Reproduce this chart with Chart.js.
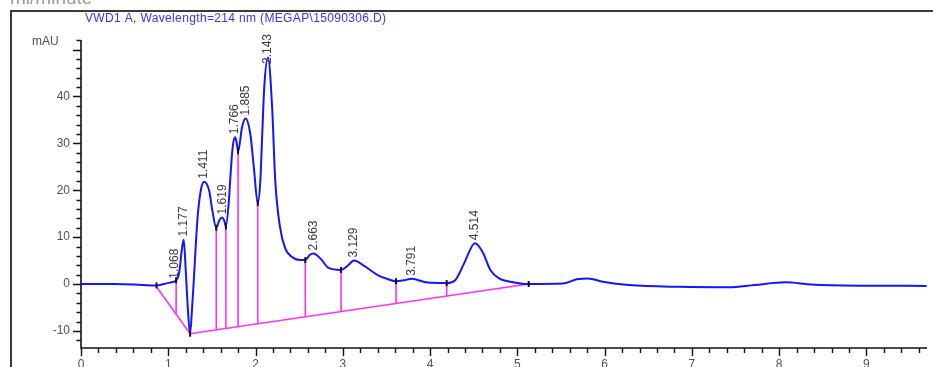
<!DOCTYPE html>
<html>
<head>
<meta charset="utf-8">
<script src="https://cdn.jsdelivr.net/npm/chart.js@4/dist/chart.umd.min.js"></script>
<style>
  html, body { margin: 0; padding: 0; background: #fff; }
  #wrap { width: 933px; height: 367px; position: relative; }
</style>
</head>
<body>
<div id="wrap"><canvas id="chrom" width="933" height="367"></canvas></div>
<script>
// VWD1 A signal, 214 nm (retention time in min, absorbance in mAU)
const signalTimes = [
  0.00, 0.40, 0.70, 0.865, 0.95, 1.02, 1.068, 1.09, 1.126, 1.15, 1.177, 1.20, 1.225, 1.25, 1.27,
  1.297, 1.335, 1.373, 1.411, 1.47, 1.505, 1.55, 1.585, 1.619, 1.645, 1.66, 1.695, 1.714, 1.74,
  1.766, 1.785, 1.80, 1.846, 1.885, 1.94, 1.98, 2.025, 2.055, 2.074, 2.10, 2.143, 2.19, 2.226,
  2.28, 2.34, 2.415, 2.51, 2.57, 2.62, 2.663, 2.76, 2.83, 2.98, 3.05, 3.129, 3.25, 3.40, 3.52,
  3.61, 3.70, 3.791, 3.97, 4.19, 4.29, 4.39, 4.514, 4.60, 4.69, 4.79, 4.92, 5.13, 5.52, 5.68,
  5.81, 5.98, 6.28, 6.85, 7.42, 7.72, 8.07, 8.37, 8.94, 9.69
];
const signalValues = [
  0.0, 0.0, -0.2, -0.3, 0.0, 0.3, 0.5, 0.8, 2.5, 6.5, 9.5, 3.0, -5.5, -10.6, -6.0,
  2.3, 14.0, 20.0, 21.8, 19.8, 15.7, 12.0, 13.6, 14.2, 13.3, 12.3, 17.9, 23.5, 29.5,
  31.3, 30.0, 28.3, 33.5, 35.3, 32.0, 25.0, 17.3, 22.0, 30.6, 42.0, 48.3, 37.7, 22.0,
  12.2, 7.6, 5.8, 5.1, 5.1, 6.2, 6.5, 5.1, 3.5, 3.0, 3.8, 5.0, 3.8, 1.9, 1.0,
  0.6, 0.8, 1.1, 0.3, 0.2, 0.85, 4.4, 8.7, 6.9, 3.0, 1.2, 0.5, 0.0, 0.1, 1.0,
  1.2, 0.5, -0.2, -0.6, -0.7, -0.2, 0.35, -0.1, -0.35, -0.4
];

// Integration baseline
const baselineTimes  = [0.865, 1.25, 5.13];
const baselineValues = [-0.6, -10.6, 0.0];

// Peak separation drop lines (top on signal, bottom on baseline)
const dropTimes   = [1.09, 1.55, 1.66, 1.80, 2.025, 2.57, 2.98, 3.61, 4.19];
const dropTops    = [0.8, 12.0, 12.3, 28.3, 17.3, 5.1, 3.0, 0.6, 0.2];
const dropBottoms = [-6.4, -9.8, -9.5, -9.1, -8.5, -7.0, -5.9, -4.2, -2.6];

// Integration event marks
const eventTimes  = [0.865, 1.09, 1.25, 1.55, 1.66, 1.80, 2.025, 2.57, 2.98, 3.61, 4.19, 5.13];
const eventValues = [-0.3, 0.8, -10.6, 12.0, 12.3, 28.3, 17.3, 5.1, 3.0, 0.6, 0.2, 0.0];

// Peak retention time labels
const peakLabels = ['1.068', '1.177', '1.411', '1.619', '1.766', '1.885', '2.143', '2.663', '3.129', '3.791', '4.514'];
const peakTimes  = [1.068, 1.177, 1.411, 1.619, 1.766, 1.885, 2.143, 2.663, 3.129, 3.791, 4.514];
const peakValues = [0.5, 9.5, 21.8, 14.2, 31.3, 35.3, 48.3, 6.5, 5.0, 1.1, 8.7];

// Axis ticks
const xTickLabels = ['0', '1', '2', '3', '4', '5', '6', '7', '8', '9'];
const yTickLabels = ['-10', '0', '10', '20', '30', '40'];

const titleText = 'VWD1 A, Wavelength=214 nm (MEGAP\\15090306.D)';
const unitText = 'mAU';
const headerText = 'ml/minute';

const FONT = '"Liberation Sans", Arial, sans-serif';

const pts = (xs, ys) => xs.map((x, i) => ({ x: x, y: ys[i] }));

const datasets = [
  {
    label: 'events',
    data: pts(eventTimes, eventValues),
    showLine: false,
    pointStyle: 'line',
    rotation: 90,
    radius: 3,
    borderColor: '#111',
    borderWidth: 2,
    order: 0
  },
  {
    label: 'signal',
    data: pts(signalTimes, signalValues),
    showLine: true,
    borderColor: '#1414ff',
    borderWidth: 2,
    pointRadius: 0,
    cubicInterpolationMode: 'monotone',
    order: 1
  },
  {
    label: 'baseline',
    data: pts(baselineTimes, baselineValues),
    showLine: true,
    borderColor: '#ff30f0',
    borderWidth: 1.6,
    pointRadius: 0,
    order: 3
  }
].concat(dropTimes.map((t, i) => ({
  label: 'drop' + i,
  data: [{ x: t, y: dropTops[i] }, { x: t, y: dropBottoms[i] }],
  showLine: true,
  borderColor: '#ff30f0',
  borderWidth: 1.6,
  pointRadius: 0,
  order: 2
})));

// Frame, axes with major/minor ticks, texts and peak labels
const chemDecor = {
  id: 'chemDecor',
  beforeDatasetsDraw(chart) {
    const ctx = chart.ctx;
    const xs = chart.scales.x, ys = chart.scales.y;
    const area = chart.chartArea;
    ctx.save();
    // page frame
    ctx.strokeStyle = '#3a3a3a';
    ctx.lineWidth = 2;
    ctx.beginPath();
    ctx.moveTo(11, 367);
    ctx.lineTo(11, 11);
    ctx.lineTo(933, 11);
    ctx.stroke();

    // header text cut by the page edge
    ctx.fillStyle = '#9a9a9a';
    ctx.font = '19px ' + FONT;
    ctx.textAlign = 'left';
    ctx.textBaseline = 'alphabetic';
    ctx.fillText(headerText, 10, 4);

    // title
    ctx.fillStyle = '#3434ff';
    ctx.font = '12px ' + FONT;
    ctx.letterSpacing = '0.35px';
    ctx.textBaseline = 'middle';
    ctx.fillText(titleText, 85, 19);
    ctx.letterSpacing = '0px';

    // axis lines
    const x0 = xs.getPixelForValue(0);
    const yb = area.bottom;
    ctx.strokeStyle = '#111';
    ctx.lineWidth = 1.6;
    ctx.beginPath();
    ctx.moveTo(x0, area.top);
    ctx.lineTo(x0, yb);
    ctx.lineTo(area.right, yb);
    ctx.stroke();

    // y ticks: minor every 2, major every 10
    ctx.lineWidth = 1.4;
    ctx.beginPath();
    for (let v = -12; v <= 52; v += 2) {
      const py = Math.round(ys.getPixelForValue(v)) + 0.5;
      if (py < area.top || py > yb) continue;
      const len = (v % 10 === 0) ? 8 : 4.5;
      ctx.moveTo(x0 - len, py);
      ctx.lineTo(x0, py);
    }
    // x ticks: minor every 0.2, major every 1
    for (let k = 0; k <= 48; k++) {
      const px = Math.round(xs.getPixelForValue(k * 0.2)) + 0.5;
      if (px > area.right) continue;
      const len = (k % 5 === 0) ? 8 : 5;
      ctx.moveTo(px, yb);
      ctx.lineTo(px, yb + len);
    }
    ctx.stroke();

    // tick labels
    ctx.fillStyle = '#505050';
    ctx.font = '12px ' + FONT;
    ctx.textAlign = 'right';
    ctx.textBaseline = 'middle';
    yTickLabels.forEach(s => {
      ctx.fillText(s, x0 - 11, ys.getPixelForValue(parseFloat(s)));
    });
    ctx.textAlign = 'left';
    ctx.fillText(unitText, 32, 42);
    ctx.textAlign = 'center';
    ctx.textBaseline = 'top';
    xTickLabels.forEach(s => {
      ctx.fillText(s, xs.getPixelForValue(parseFloat(s)), yb + 11);
    });
    ctx.restore();
  },
  afterDatasetsDraw(chart) {
    const ctx = chart.ctx;
    const xs = chart.scales.x, ys = chart.scales.y;
    ctx.save();
    ctx.fillStyle = '#3a3a3a';
    ctx.font = '12px ' + FONT;
    ctx.textAlign = 'left';
    ctx.textBaseline = 'middle';
    peakLabels.forEach((s, i) => {
      const px = xs.getPixelForValue(peakTimes[i]);
      let py = ys.getPixelForValue(peakValues[i]) - 3;
      const w = ctx.measureText(s).width;
      if (py - w < 34) py = 34 + w;
      ctx.save();
      ctx.translate(px, py);
      ctx.rotate(-Math.PI / 2);
      ctx.fillText(s, 0, 0);
      ctx.restore();
    });
    ctx.restore();
  }
};

new Chart(document.getElementById('chrom'), {
  type: 'scatter',
  data: { datasets: datasets },
  options: {
    responsive: false,
    animation: false,
    devicePixelRatio: 1,
    layout: { padding: { left: 81, top: 40, right: 0, bottom: 19 } },
    plugins: { legend: { display: false }, tooltip: { enabled: false } },
    scales: {
      x: { type: 'linear', min: 0, max: 9.694, display: false },
      y: { type: 'linear', min: -13.65, max: 52.05, display: false }
    }
  },
  plugins: [chemDecor]
});
</script>
</body>
</html>
